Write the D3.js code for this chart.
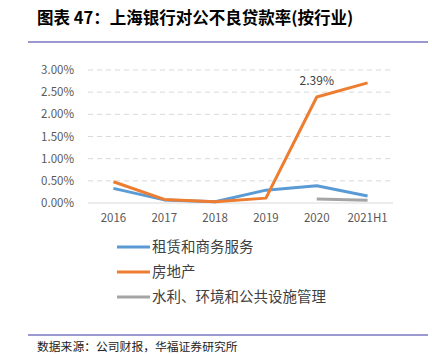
<!DOCTYPE html>
<html>
<head>
<meta charset="utf-8">
<script src="https://d3js.org/d3.v7.min.js"></script>
<style>
  body { margin: 0; background: #fff; }
  text { font-family: "Noto Sans CJK SC", "Liberation Sans", sans-serif; }
</style>
</head>
<body>
<div id="chart"></div>
<script>
// data
const years = ["2016", "2017", "2018", "2019", "2020", "2021H1"];
const leasing = [0.33, 0.07, 0.03, 0.29, 0.39, 0.16];
const realEstate = [0.48, 0.08, 0.03, 0.11, 2.39, 2.71];
const utilities = [null, null, null, null, 0.09, 0.06];
const seriesNames = ["租赁和商务服务", "房地产", "水利、环境和公共设施管理"];
const yTicks = [0, 0.5, 1, 1.5, 2, 2.5, 3];

const W = 432, H = 354;
const svg = d3.select("#chart").append("svg")
    .attr("width", W).attr("height", H);

// header / footer
svg.append("text")
    .attr("x", 37).attr("y", 24)
    .style("font-size", "16.5px").style("font-weight", "bold")
    .attr("fill", "#000")
    .text("图表 47：上海银行对公不良贷款率(按行业)");
svg.append("line")
    .attr("x1", 28).attr("x2", 428).attr("y1", 42).attr("y2", 42)
    .attr("stroke", "#9a9ad0").attr("stroke-width", 2);
svg.append("line")
    .attr("x1", 28).attr("x2", 428).attr("y1", 335).attr("y2", 335)
    .attr("stroke", "#9a9ad0").attr("stroke-width", 2);
svg.append("text")
    .attr("x", 37).attr("y", 351)
    .style("font-size", "11.8px").attr("fill", "#222")
    .text("数据来源：公司财报，华福证券研究所");

// scales
let x = d3.scalePoint().domain(years).range([88, 393]).padding(0.5);
let y = d3.scaleLinear().domain([0, 3]).range([203, 70]);

// grid
svg.append("g").selectAll("line")
    .data(yTicks)
    .enter().append("line")
    .attr("x1", 88).attr("x2", 393)
    .attr("y1", d => y(d)).attr("y2", d => y(d))
    .attr("stroke", "#d9d9d9").attr("stroke-width", 1)
    .attr("stroke-dasharray", d => d === 0 ? null : "5,4");

// y labels
svg.append("g").selectAll("text")
    .data(yTicks)
    .enter().append("text")
    .attr("x", 74).attr("y", d => y(d)).attr("dy", "0.35em")
    .attr("text-anchor", "end")
    .style("font-size", "11.5px").attr("fill", "#595959")
    .text(d => d.toFixed(2) + "%");

// x labels
svg.append("g").selectAll("text")
    .data(years)
    .enter().append("text")
    .attr("x", d => x(d)).attr("y", 222)
    .attr("text-anchor", "middle")
    .style("font-size", "11.5px").attr("fill", "#595959")
    .text(d => d);

const colors = ["#5b9bd5", "#ed7d31", "#a5a5a5"];
const allSeries = [leasing, realEstate, utilities];

let line = d3.line()
    .defined(d => d != null)
    .x((d, i) => x(years[i]))
    .y(d => y(d));

allSeries.forEach((s, k) => {
    svg.append("path")
        .datum(s)
        .attr("d", line)
        .attr("fill", "none")
        .attr("stroke", colors[k])
        .attr("stroke-width", 3)
        .attr("stroke-linejoin", "round");
});

// data label
svg.append("text")
    .attr("x", x("2020")).attr("y", y(2.39) - 12)
    .attr("text-anchor", "middle")
    .style("font-size", "12px").attr("fill", "#404040")
    .text(realEstate[4].toFixed(2) + "%");

// legend
let legend = svg.append("g").selectAll("g")
    .data(seriesNames)
    .enter().append("g")
    .attr("transform", (d, i) => "translate(117," + (247 + i * 25) + ")");
legend.append("line")
    .attr("x1", 0).attr("x2", 33)
    .attr("stroke", (d, i) => colors[i]).attr("stroke-width", 3);
legend.append("text")
    .attr("x", 35).attr("dy", "0.35em")
    .style("font-size", "14.5px").attr("fill", "#404040")
    .text(d => d);
</script>
</body>
</html>
